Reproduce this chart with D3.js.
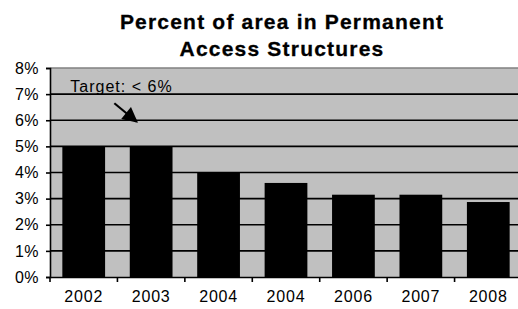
<!DOCTYPE html>
<html>
<head>
<meta charset="utf-8">
<script src="https://cdn.jsdelivr.net/npm/d3@7"></script>
<style>
  body { margin: 0; background: #fff; }
  svg { display: block; font-family: "Liberation Sans", Arial, sans-serif; }
</style>
</head>
<body>
<div id="chart"></div>
<script>
const years = ["2002", "2003", "2004", "2004", "2006", "2007", "2008"];
const values = [5.0, 5.0, 4.0, 3.6, 3.15, 3.15, 2.87];
const yTicks = [0, 1, 2, 3, 4, 5, 6, 7, 8];
const titleLines = ["Percent of area in Permanent", "Access Structures"];
const targetLabel = "Target: < 6%";
const targetValue = 6;

const W = 518, H = 309;
const margin = { top: 68, right: -4, bottom: 32, left: 50 };
const width = W - margin.left - margin.right,
  height = H - margin.top - margin.bottom;

const svg = d3.select("#chart").append("svg").attr("width", W).attr("height", H);

// title
svg.append("g").selectAll("text").data(titleLines).enter().append("text")
  .attr("x", 282).attr("y", (d, i) => 29 + i * 27)
  .attr("text-anchor", "middle")
  .style("font-size", "21px").style("font-weight", "bold").style("letter-spacing", "1.2px")
  .style("stroke", "#000").style("stroke-width", "0.3px")
  .text(d => d);

const g = svg.append("g").attr("transform", `translate(${margin.left},${margin.top})`);

const x = d3.scaleBand().domain(d3.range(years.length)).range([0, width])
  .paddingInner(0.366).paddingOuter(0.183);
const y = d3.scaleLinear().domain([0, 8]).range([height, 0]);

// plot background
g.append("rect").attr("width", width).attr("height", height).attr("fill", "#c0c0c0");

// gridlines
g.selectAll(".grid").data(yTicks.filter(v => v > 0 && v < 8)).enter().append("line")
  .attr("x1", 0).attr("x2", width)
  .attr("y1", d => y(d)).attr("y2", d => y(d))
  .attr("stroke", "#000").attr("stroke-width", 1.6);
g.append("line").attr("x1", 0).attr("x2", width).attr("y1", y(8)).attr("y2", y(8))
  .attr("stroke", "#808080").attr("stroke-width", 1.6);

// bars
g.selectAll(".bar").data(values).enter().append("rect")
  .attr("x", (d, i) => x(i)).attr("width", x.bandwidth())
  .attr("y", d => y(d)).attr("height", d => height - y(d))
  .attr("fill", "#000");

// y axis
const yAxis = g.append("g")
  .call(d3.axisLeft(y).tickValues(yTicks).tickFormat(d => d + "%").tickSize(4).tickPadding(7));
yAxis.select(".domain").attr("stroke", "#000").attr("stroke-width", 1.6);
yAxis.selectAll(".tick line").attr("stroke-width", 1.6);
yAxis.selectAll("text").style("font-size", "16px").style("letter-spacing", "0.5px")
  .attr("fill", "#000").style("font-family", "'Liberation Sans', Arial, sans-serif");

// x axis: labels centred, ticks at category boundaries
const xAxis = g.append("g").attr("transform", `translate(0,${height})`)
  .call(d3.axisBottom(x).tickFormat(i => years[i]).tickSize(0).tickPadding(14));
xAxis.select(".domain").attr("stroke", "#000").attr("stroke-width", 1.6);
xAxis.selectAll("text").style("font-size", "16px").style("letter-spacing", "0.8px")
  .attr("fill", "#000").style("font-family", "'Liberation Sans', Arial, sans-serif");
xAxis.selectAll(".bound").data(d3.range(years.length + 1)).enter().append("line")
  .attr("x1", i => i * x.step()).attr("x2", i => i * x.step())
  .attr("y1", 0).attr("y2", 5).attr("stroke", "#000").attr("stroke-width", 1.6);

// target annotation
svg.append("defs").append("marker").attr("id", "head")
  .attr("viewBox", "0 0 10 10").attr("refX", 9).attr("refY", 5)
  .attr("markerWidth", 8).attr("markerHeight", 7).attr("orient", "auto")
  .attr("markerUnits", "strokeWidth")
  .append("path").attr("d", "M0,0 L10,5 L0,10 Z").attr("fill", "#000");

g.append("text").attr("x", x(0) + 8).attr("y", y(targetValue + 1.1))
  .style("font-size", "16px").style("letter-spacing", "1px").text(targetLabel);
g.append("line")
  .attr("x1", x(0) + 52).attr("y1", y(targetValue + 0.65))
  .attr("x2", x(1) + 7).attr("y2", y(targetValue) + 1.5)
  .attr("stroke", "#000").attr("stroke-width", 2.2).attr("marker-end", "url(#head)");
</script>
</body>
</html>
